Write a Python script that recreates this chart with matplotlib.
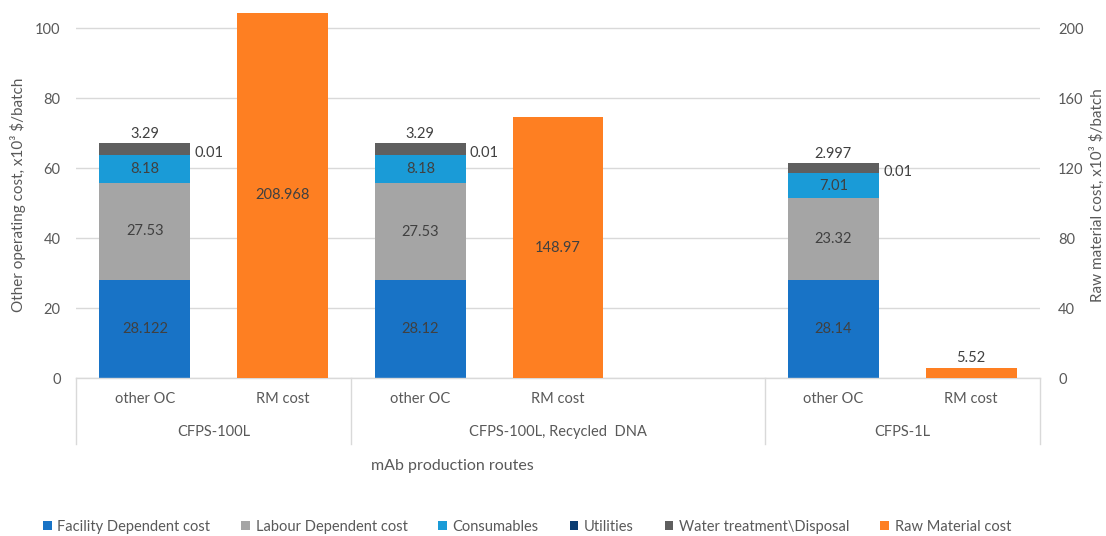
import matplotlib.pyplot as plt
import numpy as np
from matplotlib.lines import Line2D
from matplotlib.patches import Patch

plt.rcParams['font.family'] = ['Lato', 'DejaVu Sans']

# category slots (the empty one keeps the gap in the middle group)
slot_labels = ['other OC', 'RM cost', 'other OC', 'RM cost', '', 'other OC', 'RM cost']
groups = ['CFPS-100L', 'CFPS-100L, Recycled  DNA', 'CFPS-1L']
group_sizes = [2, 3, 2]

# other operating cost stacks (x10^3 $/batch), left axis
oc_slots = [0, 2, 5]
facility = [28.122, 28.12, 28.14]
labour = [27.53, 27.53, 23.32]
consumables = [8.18, 8.18, 7.01]
utilities = [0.01, 0.01, 0.01]
water = [3.29, 3.29, 2.997]
facility_txt = ['28.122', '28.12', '28.14']
labour_txt = ['27.53', '27.53', '23.32']
consumables_txt = ['8.18', '8.18', '7.01']
utilities_txt = ['0.01', '0.01', '0.01']
water_txt = ['3.29', '3.29', '2.997']

# raw material cost (x10^3 $/batch), right axis
rm_slots = [1, 3, 6]
rm_cost = [208.968, 148.97, 5.52]
rm_txt = ['208.968', '148.97', '5.52']

colors = {
    'Facility Dependent cost': '#1873C6',
    'Labour Dependent cost': '#A5A5A5',
    'Consumables': '#1A9BD7',
    'Utilities': '#0B3D73',
    'Water treatment\\Disposal': '#5F5F5F',
    'Raw Material cost': '#FE7F22',
}
txtc = '#404040'
tickc = '#595959'
w = 0.66

fig = plt.figure(figsize=(11.06, 5.36), dpi=100)
ax = fig.add_axes([76/1106, 1 - 378/536, (1040-76)/1106, (378-12.5)/536])
ax2 = ax.twinx()

x_oc = np.array(oc_slots)
bottom = np.zeros(3)
stack = [(facility, facility_txt, 'Facility Dependent cost'),
         (labour, labour_txt, 'Labour Dependent cost'),
         (consumables, consumables_txt, 'Consumables'),
         (utilities, utilities_txt, 'Utilities'),
         (water, water_txt, 'Water treatment\\Disposal')]
for vals, txts, name in stack:
    vals = np.array(vals)
    ax.bar(x_oc, vals, w, bottom=bottom, color=colors[name], zorder=3)
    for xi, b, v, t in zip(x_oc, bottom, vals, txts):
        if name == 'Utilities':
            ax.text(xi + w/2 + 0.03, b + v + 0.5, t, ha='left', va='center', fontsize=10.5, color=txtc, zorder=5)
        elif name == 'Water treatment\\Disposal':
            ax.text(xi, b + v + 0.6, t, ha='center', va='bottom', fontsize=10.5, color=txtc, zorder=5)
        else:
            ax.text(xi, b + v/2, t, ha='center', va='center', fontsize=10.5, color=txtc, zorder=5)
    bottom = bottom + vals

ax2.bar(rm_slots, rm_cost, w, color=colors['Raw Material cost'], zorder=3)
for xi, v, t in zip(rm_slots, rm_cost, rm_txt):
    if v > 20:
        ax2.text(xi, v/2, t, ha='center', va='center', fontsize=10.5, color=txtc, zorder=5)
    else:
        ax2.text(xi, v + 2, t, ha='center', va='bottom', fontsize=10.5, color=txtc, zorder=5)

ax.set_xlim(-0.5, 6.5)
ax.set_ylim(0, 104.5)
ax2.set_ylim(0, 209)
ax.set_yticks(np.arange(0, 101, 20))
ax2.set_yticks(np.arange(0, 201, 40))
ax.yaxis.grid(True, color='#D9D9D9', linewidth=1, zorder=0)
ax.set_axisbelow(True)
ax.set_xticks([])
for a in (ax, ax2):
    for s in a.spines.values():
        s.set_visible(False)
    a.tick_params(axis='y', length=0, labelsize=10.5, labelcolor=tickc)
ax.tick_params(axis='y', pad=11)
ax2.tick_params(axis='y', pad=13)

ax.set_ylabel('Other operating cost, x10³ $/batch', fontsize=11, color=tickc)
ax2.set_ylabel('Raw material cost, x10³ $/batch', fontsize=11, color=tickc)
ax.yaxis.set_label_coords((26 - 76)/964, 0.5)
ax2.yaxis.set_label_coords((1090 - 76)/964, 0.5)

# category axis: baseline, separators, two rows of labels
ax.plot([-0.5, 6.5], [0, 0], color='#D9D9D9', lw=1, clip_on=False, zorder=4)
tr = ax.get_xaxis_transform()
edges = np.concatenate([[0], np.cumsum(group_sizes)]) - 0.5
for e in edges:
    ax.add_line(Line2D([e, e], [0, -66/365.5], transform=tr, color='#D9D9D9', lw=1, clip_on=False))
for i, lab in enumerate(slot_labels):
    ax.text(i, -21/365.5, lab, transform=tr, ha='center', va='center', fontsize=10.5, color=tickc)
for g, a, b in zip(groups, edges[:-1], edges[1:]):
    ax.text((a + b)/2, -54/365.5, g, transform=tr, ha='center', va='center', fontsize=10.5, color=tickc)

fig.text(452/1106, 1 - 466/536, 'mAb production routes', ha='center', va='center', fontsize=11.5, color=tickc)

handles = [Patch(facecolor=c, edgecolor='none') for c in colors.values()]
fig.legend(handles, list(colors.keys()), loc='center', bbox_to_anchor=(527/1106, 1 - 527/536), ncol=6,
           frameon=False, fontsize=10.5, handlelength=0.6, handleheight=0.6, handletextpad=0.4,
           columnspacing=2.1, labelcolor=tickc)

plt.savefig('out.png', dpi=100)
